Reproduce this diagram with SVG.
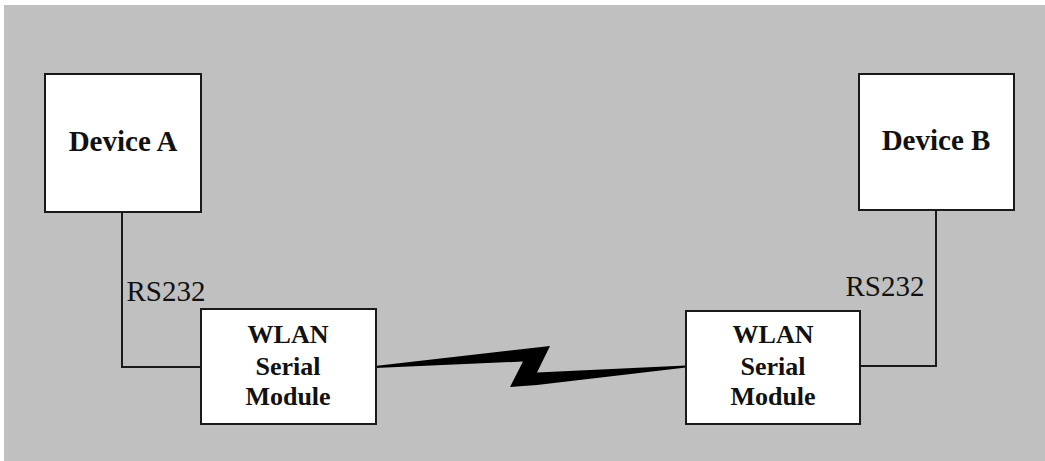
<svg xmlns="http://www.w3.org/2000/svg" width="1045" height="461" viewBox="0 0 1045 461">
<style>
.box{fill:#ffffff;stroke:#1a1a1a;stroke-width:2}
.wire{fill:none;stroke:#1a1a1a;stroke-width:2}
.t{font-family:"Liberation Serif",serif;fill:#111;text-anchor:middle}
.dev{font-size:29px;font-weight:bold}
.mod{font-size:26px;font-weight:bold}
.lbl{font-size:29px}
</style>
<rect x="0" y="0" width="1045" height="461" fill="#ffffff"/>
<rect x="4" y="5" width="1041" height="456" fill="#c0c0c0"/>
<g id="connectors">
<polyline class="wire" points="122,212 122,367 201,367"/>
<polyline class="wire" points="936,210 936,366 860,366"/>
<polygon fill="#000" points="375,366 550,346 537,372.5 686,365.5 686,367.5 537,385 510,387 523,361.5 375,368"/>
</g>
<g id="deviceA">
<rect class="box" x="45" y="74" width="156" height="138"/>
<text class="t dev" x="123" y="151">Device A</text>
</g>
<g id="deviceB">
<rect class="box" x="859" y="74" width="155" height="136"/>
<text class="t dev" x="936" y="150">Device B</text>
</g>
<g id="labelA">
<text class="t lbl" x="166" y="301">RS232</text>
</g>
<g id="labelB">
<text class="t lbl" x="885" y="296">RS232</text>
</g>
<g id="moduleA">
<rect class="box" x="201" y="309" width="175" height="115"/>
<text class="t mod" x="288" y="343">WLAN</text>
<text class="t mod" x="288" y="375">Serial</text>
<text class="t mod" x="288" y="405">Module</text>
</g>
<g id="moduleB">
<rect class="box" x="686" y="311" width="174" height="113"/>
<text class="t mod" x="773" y="343">WLAN</text>
<text class="t mod" x="773" y="375">Serial</text>
<text class="t mod" x="773" y="405">Module</text>
</g>
</svg>
